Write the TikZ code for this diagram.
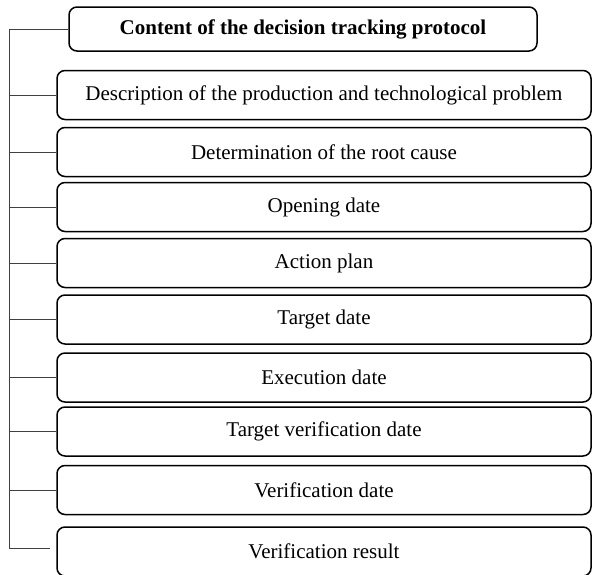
\documentclass[tikz,border=0pt]{standalone}
\usepackage{fontspec}
\setmainfont{Liberation Serif}
\usetikzlibrary{positioning}

\tikzset{
	field/.style={draw, rounded corners=8pt, line width=1.5pt, minimum width=534pt, minimum height=49pt, inner sep=0pt, font=\fontsize{21}{25}\selectfont},
	title/.style={field, minimum width=468pt, minimum height=44pt, font=\fontsize{21}{25}\selectfont\bfseries},
	wire/.style={draw=black!75, line width=0.9pt}
}

\begin{document}
\begin{tikzpicture}[x=1pt,y=-1pt]
	\useasboundingbox (0,0) rectangle (592,574);
	\node[title] (H)  at (303,29)    {Content of the decision tracking protocol};
	\node[field] (P1) at (324,95)    {Description of the production and technological problem};
	\node[field] (P2) at (324,152)   {Determination of the root cause};
	\node[field] (P3) at (324,207)   {Opening date};
	\node[field] (P4) at (324,263)   {Action plan};
	\node[field] (P5) at (324,319.5) {Target date};
	\node[field] (P6) at (324,377.5) {Execution date};
	\node[field] (P7) at (324,431.5) {Target verification date};
	\node[field] (P8) at (324,490)   {Verification date};
	\node[field] (P9) at (324,551.5) {Verification result};
	\coordinate (T) at (9,29);
	\coordinate (B) at (9,548);
	\coordinate (E) at (50,548);
	\path[wire]
	(H.west) -- (T) -- (B) -- (E)
	(T |- P1.west)	--	(P1.west)
	(T |- P2.west)	--	(P2.west)
	(T |- P3.west)	--	(P3.west)
	(T |- P4.west)	--	(P4.west)
	(T |- P5.west)	--	(P5.west)
	(T |- P6.west)	--	(P6.west)
	(T |- P7.west)	--	(P7.west)
	(T |- P8.west)	--	(P8.west);
\end{tikzpicture}
\end{document}
